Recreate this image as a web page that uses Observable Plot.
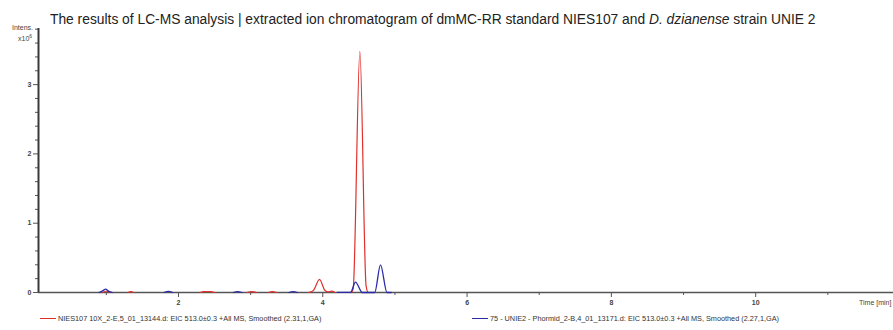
<!DOCTYPE html>
<html>
<head>
<meta charset="utf-8">
<script src="https://cdn.jsdelivr.net/npm/d3@7"></script>
<script src="https://cdn.jsdelivr.net/npm/@observablehq/plot@0.6"></script>
<style>
  body { margin: 0; background: #fff; font-family: "Liberation Sans", Arial, sans-serif; }
  #wrap { position: relative; width: 893px; height: 330px; overflow: hidden; background: #fff; }
  #chart { position: absolute; left: 0; top: 0; }
  #title { position: absolute; left: 50px; top: 11px; font-size: 14px; color: #222; white-space: nowrap; transform: scaleX(0.986); transform-origin: 0 0; }
  .small { position: absolute; font-size: 7px; color: #444; white-space: nowrap; }
  .leg { position: absolute; top: 314px; font-size: 7.3px; color: #333; white-space: nowrap; display: flex; align-items: center; }
  .sw { display: inline-block; width: 16px; height: 0; border-top: 1.3px solid; margin-right: 2px; }
</style>
</head>
<body>
<div id="wrap">
  <div id="chart"></div>
  <div id="title">The results of LC-MS analysis | extracted ion chromatogram of dmMC-RR standard NIES107 and <i>D. dzianense</i> strain UNIE 2</div>
  <div class="small" style="left:12px;top:24px;">Intens.</div>
  <div class="small" style="left:18px;top:33px;">x10<sup style="font-size:5px">6</sup></div>
  <div class="small" style="left:859px;top:299px;">Time [min]</div>
  <div class="leg" style="left:40px;"><span class="sw" style="border-color:#e0302c"></span><span id="leg1"></span></div>
  <div class="leg" style="left:472px;"><span class="sw" style="border-color:#2a2aa8"></span><span id="leg2"></span></div>
</div>
<script>
// ---- data (time in min, intensity in 10^6) ----
const seriesNames = [
  "NIES107 10X_2-E,5_01_13144.d: EIC 513.0±0.3 +All MS, Smoothed (2.31,1,GA)",
  "75 - UNIE2 - Phormid_2-B,4_01_13171.d: EIC 513.0±0.3 +All MS, Smoothed (2.27,1,GA)"
];
const redTime = [0.95, 1.0, 1.06, null, 1.3, 1.34, 1.38, null, 2.3, 2.35, 2.45, 2.5, null,
  2.95, 3.02, 3.08, null, 3.25, 3.3, 3.36, null,
  3.8, 3.87, 3.955, 4.03, 4.08, 4.12, 4.17, null, 4.4, 4.422, 4.514, 4.6, 4.63, 4.68];
const redIntensity = [0, 0.018, 0, null, 0, 0.012, 0, null, 0, 0.012, 0.012, 0, null,
  0, 0.012, 0, null, 0, 0.012, 0, null,
  0, 0.03, 0.19, 0.03, 0.008, 0.02, 0, null, 0, 0.06, 3.48, 0.1, 0, 0];
const blueTime = [0.9, 0.96, 0.99, 1.03, 1.08, null, 1.8, 1.86, 1.92, null, 2.76, 2.82, 2.88, null,
  3.53, 3.59, 3.65, null, 4.2, 4.385, 4.454, 4.547, 4.72, 4.8, 4.89, 4.95];
const blueIntensity = [0, 0.03, 0.05, 0.02, 0, null, 0, 0.015, 0, null, 0, 0.012, 0, null,
  0, 0.012, 0, null, 0.003, 0.003, 0.15, 0, 0, 0.40, 0, 0];
const xMajorTicks = [2, 4, 6, 8, 10];
const xMinorTicks = [1, 3, 5, 7, 9, 11];
const yMajorTicks = [0, 1, 2, 3];
const yMinorTicks = [0.2, 0.4, 0.6, 0.8, 1.2, 1.4, 1.6, 1.8, 2.2, 2.4, 2.6, 2.8, 3.2, 3.4, 3.6, 3.8];
const colors = ["#e0302c", "#2a2aa8"];

document.getElementById("leg1").textContent = seriesNames[0];
document.getElementById("leg2").textContent = seriesNames[1];

const toRows = (t, v) => t.map((d, i) => ({time: d, intensity: v[i]}));
const red = toRows(redTime, redIntensity);
const blue = toRows(blueTime, blueIntensity);

const xDomain = [0.06, 11.91];
const yDomain = [0, 3.81];
const axisColor = "#555";

const chart = Plot.plot({
  width: 893,
  height: 330,
  marginLeft: 38,
  marginRight: 0,
  marginTop: 28,
  marginBottom: 38,
  style: {background: "transparent", fontFamily: "Liberation Sans, Arial, sans-serif", overflow: "visible"},
  x: {domain: xDomain},
  y: {domain: yDomain},
  marks: [
    Plot.ruleY([0], {stroke: axisColor, strokeWidth: 1.6}),
    Plot.axisY(yMajorTicks, {anchor: "left", tickSize: 5, tickPadding: 2, fontSize: 7, fontWeight: "bold", color: "#444", stroke: axisColor, label: null, tickFormat: d => String(d)}),
    Plot.axisY(yMinorTicks, {anchor: "left", tickSize: 3, text: null, stroke: axisColor, label: null}),
    Plot.axisX(xMajorTicks, {anchor: "bottom", tickSize: 5, tickPadding: 3, fontSize: 7, fontWeight: "bold", color: "#444", stroke: axisColor, label: null, tickFormat: d => String(d)}),
    Plot.axisX(xMinorTicks, {anchor: "bottom", tickSize: 3, text: null, stroke: axisColor, label: null}),
    Plot.line(red, {x: "time", y: "intensity", stroke: colors[0], strokeWidth: 1.2, curve: "monotone-x"}),
    Plot.line(blue, {x: "time", y: "intensity", stroke: colors[1], strokeWidth: 1.3, curve: "monotone-x"}),
    Plot.ruleX([xDomain[0]], {stroke: "#3a3a3a", strokeWidth: 2})
  ]
});
document.getElementById("chart").appendChild(chart);
</script>
</body>
</html>
